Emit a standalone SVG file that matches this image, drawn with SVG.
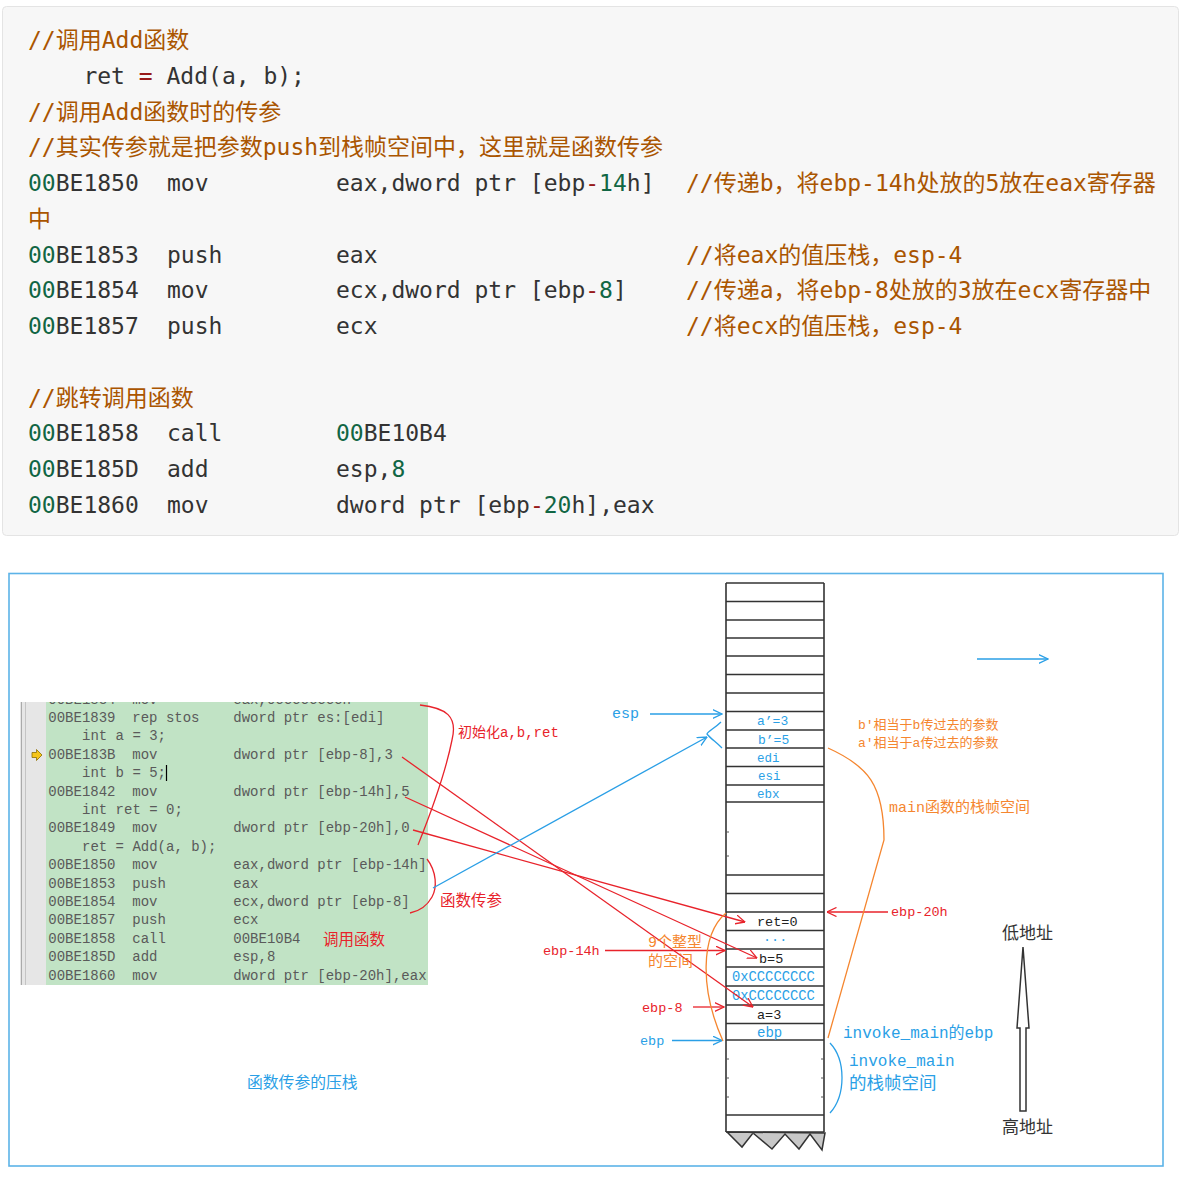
<svg xmlns="http://www.w3.org/2000/svg" width="1184" height="1180" viewBox="0 0 1184 1180">
<defs>
<style>
.code{font-family:"DejaVu Sans Mono","Noto Sans CJK SC",monospace;font-size:23px;fill:#333}
.cm{fill:#a50}
.nb{fill:#164}
.op{fill:#981a1a}
.asm{font-family:"Liberation Mono","Noto Sans CJK SC",monospace;font-size:14px;fill:#5a5a5a}
.lbl{font-family:"Liberation Mono","Noto Sans CJK SC",monospace}
.cjk{font-family:"Noto Sans CJK SC",sans-serif}
.red{fill:#e8232b}
.blue{fill:#2a9fe6}
.org{fill:#f5862f}
.blk{fill:#222}
.rl{stroke:#e8232b;stroke-width:1.3;fill:none}
.bl{stroke:#2a9fe6;stroke-width:1.3;fill:none}
.ol{stroke:#f5862f;stroke-width:1.3;fill:none}
.row{stroke:#333;stroke-width:1.6}
.tick{stroke:#555;stroke-width:1}
</style>
<marker id="ahR" viewBox="0 0 10 10" refX="9.5" refY="5" markerWidth="10" markerHeight="10" markerUnits="userSpaceOnUse" orient="auto"><path d="M0,0.5 L9.5,5 L0,9.5" fill="none" stroke="#e8232b" stroke-width="1.3"/></marker>
<marker id="ahB" viewBox="0 0 10 10" refX="9.5" refY="5" markerWidth="10" markerHeight="10" markerUnits="userSpaceOnUse" orient="auto"><path d="M0,0.5 L9.5,5 L0,9.5" fill="none" stroke="#2a9fe6" stroke-width="1.3"/></marker>
<clipPath id="panelClip"><rect x="20" y="702" width="408" height="283"/></clipPath>
</defs>

<rect x="0" y="0" width="1184" height="1180" fill="#fff"/>

<!-- Top code block -->
<g id="code-block">
<rect x="2.5" y="6.5" width="1176" height="529" rx="4" fill="#f7f7f7" stroke="#e4e4e4"/>
<text class="code cm" x="28" y="48">//调用Add函数</text>
<text class="code" x="83.4" y="83.75">ret <tspan class="op">=</tspan> Add(a, b);</text>
<text class="code cm" x="28" y="119.5">//调用Add函数时的传参</text>
<text class="code cm" x="28" y="155.25">//其实传参就是把参数push到栈帧空间中，这里就是函数传参</text>
<text class="code" y="191"><tspan x="28"><tspan class="nb">00</tspan>BE1850</tspan><tspan x="167">mov</tspan><tspan x="336">eax,dword ptr [ebp<tspan class="op">-</tspan><tspan class="nb">14</tspan>h]</tspan><tspan x="686" class="cm">//传递b，将ebp-14h处放的5放在eax寄存器</tspan></text>
<text class="code cm" x="28" y="226.75">中</text>
<text class="code" y="262.5"><tspan x="28"><tspan class="nb">00</tspan>BE1853</tspan><tspan x="167">push</tspan><tspan x="336">eax</tspan><tspan x="686" class="cm">//将eax的值压栈，esp-4</tspan></text>
<text class="code" y="298.25"><tspan x="28"><tspan class="nb">00</tspan>BE1854</tspan><tspan x="167">mov</tspan><tspan x="336">ecx,dword ptr [ebp<tspan class="op">-</tspan><tspan class="nb">8</tspan>]</tspan><tspan x="686" class="cm">//传递a，将ebp-8处放的3放在ecx寄存器中</tspan></text>
<text class="code" y="334"><tspan x="28"><tspan class="nb">00</tspan>BE1857</tspan><tspan x="167">push</tspan><tspan x="336">ecx</tspan><tspan x="686" class="cm">//将ecx的值压栈，esp-4</tspan></text>
<text class="code cm" x="28" y="405.5">//跳转调用函数</text>
<text class="code" y="441.25"><tspan x="28"><tspan class="nb">00</tspan>BE1858</tspan><tspan x="167">call</tspan><tspan x="336"><tspan class="nb">00</tspan>BE10B4</tspan></text>
<text class="code" y="477"><tspan x="28"><tspan class="nb">00</tspan>BE185D</tspan><tspan x="167">add</tspan><tspan x="336">esp,<tspan class="nb">8</tspan></tspan></text>
<text class="code" y="512.75"><tspan x="28"><tspan class="nb">00</tspan>BE1860</tspan><tspan x="167">mov</tspan><tspan x="336">dword ptr [ebp<tspan class="op">-</tspan><tspan class="nb">20</tspan>h],eax</tspan></text>
</g>

<!-- Picture frame -->
<rect x="9" y="573.5" width="1154" height="592.5" fill="none" stroke="#5cb3e8" stroke-width="1.6"/>

<!-- Disassembly panel -->
<g id="asm-panel">
<rect x="46" y="702" width="382" height="283" fill="#c1e3c5"/>
<rect x="20" y="702" width="26" height="283" fill="#e6e6e6"/>
<line x1="21.5" y1="702" x2="21.5" y2="985" stroke="#aaa" stroke-width="1"/>
<line x1="25.5" y1="702" x2="25.5" y2="985" stroke="#c4c4c4" stroke-width="1"/>
<g clip-path="url(#panelClip)">
<text class="asm" y="703.6"><tspan x="48.3">00BE1834</tspan><tspan x="132.3">mov</tspan><tspan x="233.3">eax,0CCCCCCCCh</tspan></text>
</g>
<text class="asm" y="722"><tspan x="48.3">00BE1839</tspan><tspan x="132.3">rep stos</tspan><tspan x="233.3">dword ptr es:[edi]</tspan></text>
<text class="asm" x="82" y="740.4">int a = 3;</text>
<text class="asm" y="758.8"><tspan x="48.3">00BE183B</tspan><tspan x="132.3">mov</tspan><tspan x="233.3">dword ptr [ebp-8],3</tspan></text>
<text class="asm" x="82" y="777.2">int b = 5;</text>
<text class="asm" y="795.6"><tspan x="48.3">00BE1842</tspan><tspan x="132.3">mov</tspan><tspan x="233.3">dword ptr [ebp-14h],5</tspan></text>
<text class="asm" x="82" y="814">int ret = 0;</text>
<text class="asm" y="832.4"><tspan x="48.3">00BE1849</tspan><tspan x="132.3">mov</tspan><tspan x="233.3">dword ptr [ebp-20h],0</tspan></text>
<text class="asm" x="82" y="850.8">ret = Add(a, b);</text>
<text class="asm" y="869.2"><tspan x="48.3">00BE1850</tspan><tspan x="132.3">mov</tspan><tspan x="233.3">eax,dword ptr [ebp-14h]</tspan></text>
<text class="asm" y="887.6"><tspan x="48.3">00BE1853</tspan><tspan x="132.3">push</tspan><tspan x="233.3">eax</tspan></text>
<text class="asm" y="906"><tspan x="48.3">00BE1854</tspan><tspan x="132.3">mov</tspan><tspan x="233.3">ecx,dword ptr [ebp-8]</tspan></text>
<text class="asm" y="924.4"><tspan x="48.3">00BE1857</tspan><tspan x="132.3">push</tspan><tspan x="233.3">ecx</tspan></text>
<text class="asm" y="942.8"><tspan x="48.3">00BE1858</tspan><tspan x="132.3">call</tspan><tspan x="233.3">00BE10B4</tspan></text>
<text class="asm" y="961.2"><tspan x="48.3">00BE185D</tspan><tspan x="132.3">add</tspan><tspan x="233.3">esp,8</tspan></text>
<text class="asm" y="979.6"><tspan x="48.3">00BE1860</tspan><tspan x="132.3">mov</tspan><tspan x="233.3">dword ptr [ebp-20h],eax</tspan></text>
<polygon points="32,752.5 36.5,752.5 36.5,749.5 42,755 36.5,760.5 36.5,757.5 32,757.5" fill="#f5c518" stroke="#8a6d00" stroke-width="0.8"/>
<line x1="166.5" y1="765" x2="166.5" y2="781" stroke="#000" stroke-width="1.2"/>
<text class="lbl red" x="323" y="944.5" font-size="15.5">调用函数</text>
</g>

<!-- Stack -->
<g id="stack">
<line class="row" x1="726" y1="583" x2="726" y2="1132"/>
<line class="row" x1="824" y1="583" x2="824" y2="1132"/>
<line class="row" x1="726" y1="583" x2="824" y2="583"/>
<line class="row" x1="726" y1="601.5" x2="824" y2="601.5"/>
<line class="row" x1="726" y1="620" x2="824" y2="620"/>
<line class="row" x1="726" y1="638" x2="824" y2="638"/>
<line class="row" x1="726" y1="656" x2="824" y2="656"/>
<line class="row" x1="726" y1="674.5" x2="824" y2="674.5"/>
<line class="row" x1="726" y1="693" x2="824" y2="693"/>
<line class="row" x1="726" y1="711.5" x2="824" y2="711.5"/>
<line class="row" x1="726" y1="730" x2="824" y2="730"/>
<line class="row" x1="726" y1="748" x2="824" y2="748"/>
<line class="row" x1="726" y1="766.5" x2="824" y2="766.5"/>
<line class="row" x1="726" y1="785" x2="824" y2="785"/>
<line class="row" x1="726" y1="802" x2="824" y2="802"/>
<line class="tick" x1="726" y1="832" x2="729" y2="832"/>
<line class="tick" x1="726" y1="856" x2="729" y2="856"/>
<line class="row" x1="726" y1="875" x2="824" y2="875"/>
<line class="row" x1="726" y1="893.5" x2="824" y2="893.5"/>
<line class="row" x1="726" y1="912" x2="824" y2="912"/>
<line class="row" x1="726" y1="930.5" x2="824" y2="930.5"/>
<line class="row" x1="726" y1="949" x2="824" y2="949"/>
<line class="row" x1="726" y1="967" x2="824" y2="967"/>
<line class="row" x1="726" y1="986" x2="824" y2="986"/>
<line class="row" x1="726" y1="1005" x2="824" y2="1005"/>
<line class="row" x1="726" y1="1023.5" x2="824" y2="1023.5"/>
<line class="row" x1="726" y1="1040" x2="824" y2="1040"/>
<line class="tick" x1="726" y1="1059" x2="729" y2="1059"/>
<line class="tick" x1="726" y1="1078" x2="729" y2="1078"/>
<line class="tick" x1="726" y1="1097" x2="729" y2="1097"/>
<line class="tick" x1="821" y1="1059" x2="824" y2="1059"/>
<line class="tick" x1="821" y1="1078" x2="824" y2="1078"/>
<line class="tick" x1="821" y1="1097" x2="824" y2="1097"/>
<line class="row" x1="726" y1="1115" x2="824" y2="1115"/>
<line class="row" x1="726" y1="1132" x2="824" y2="1132"/>
<polygon points="727,1132 742,1147 753,1133 772,1149 785,1134 799,1149 810,1134 822,1150 825,1133" fill="#c8c8c8" stroke="#333" stroke-width="1.5" stroke-linejoin="miter"/>
<text class="lbl blue" x="757" y="725" font-size="13">a’=3</text>
<text class="lbl blue" x="758" y="743.5" font-size="13">b’=5</text>
<text class="lbl blue" x="757" y="761.5" font-size="12.5">edi</text>
<text class="lbl blue" x="758" y="780" font-size="12.5">esi</text>
<text class="lbl blue" x="757" y="797.5" font-size="12.5">ebx</text>
<text class="lbl blk" x="757" y="925.5" font-size="13.5">ret=0</text>
<text class="lbl blue" x="763" y="944" font-size="13.5">···</text>
<text class="lbl blk" x="759" y="962.5" font-size="13.5">b=5</text>
<text class="lbl blue" x="732" y="981" font-size="13.8">0xCCCCCCCC</text>
<text class="lbl blue" x="732" y="1000" font-size="13.8">0xCCCCCCCC</text>
<text class="lbl blk" x="757" y="1018.5" font-size="13.5">a=3</text>
<text class="lbl blue" x="757" y="1036.5" font-size="14">ebp</text>
</g>

<!-- Connectors -->
<g id="connectors">
<path class="rl" d="M420,705 C446,708 458,716 452,740 C446,770 432,810 418,845"/>
<path class="rl" d="M427,859 C437,872 437,888 432,897 C427,906 420,911 410,913"/>
<line class="rl" x1="402" y1="757" x2="753" y2="1007" marker-end="url(#ahR)"/>
<line class="rl" x1="405" y1="797" x2="757" y2="958" marker-end="url(#ahR)"/>
<line class="rl" x1="413" y1="830" x2="745" y2="922" marker-end="url(#ahR)"/>
<line class="rl" x1="605" y1="950.5" x2="725" y2="950.5" marker-end="url(#ahR)"/>
<line class="rl" x1="693" y1="1007" x2="724" y2="1007" marker-end="url(#ahR)"/>
<line class="rl" x1="888" y1="912" x2="827" y2="912" marker-end="url(#ahR)"/>
<line class="bl" x1="433" y1="888" x2="707" y2="737" marker-end="url(#ahB)"/>
<line class="bl" x1="650" y1="714" x2="722" y2="714" marker-end="url(#ahB)"/>
<line class="bl" x1="672" y1="1040.5" x2="722" y2="1040.5" marker-end="url(#ahB)"/>
<line class="bl" x1="977" y1="659" x2="1048" y2="659" marker-end="url(#ahB)"/>
<path class="bl" d="M721,722 C715,728 708,731 707,734 C710,738 716,742 722,748"/>
<path class="bl" d="M830,1043 C846,1060 846,1095 830,1113"/>
<path class="ol" d="M726,913 C700,935 700,990 723,1041"/>
<path class="ol" d="M828,748 C868,766 884,785 884,840 L828,1038"/>
<polygon points="1023,947 1029,1028 1026,1028 1026,1111 1020,1111 1020,1028 1017,1028" fill="#fff" stroke="#333" stroke-width="1.5"/>
</g>

<!-- Labels -->
<g id="labels">
<text class="lbl red" x="458" y="737" font-size="14">初始化a,b,ret</text>
<text class="lbl red" x="440" y="906" font-size="15.5">函数传参</text>
<text class="lbl blue" x="612" y="718" font-size="15">esp</text>
<text class="lbl red" x="543" y="955" font-size="13.5">ebp-14h</text>
<text class="lbl org" x="648" y="946.5" font-size="15">9个整型</text>
<text class="lbl org" x="648" y="966" font-size="15">的空间</text>
<text class="lbl red" x="642" y="1011.5" font-size="13.5">ebp-8</text>
<text class="lbl blue" x="640" y="1045" font-size="13.5">ebp</text>
<text class="lbl org" x="858" y="728.5" font-size="13">b'相当于b传过去的参数</text>
<text class="lbl org" x="858" y="746.5" font-size="13">a'相当于a传过去的参数</text>
<text class="lbl org" x="889" y="812" font-size="15">main函数的栈帧空间</text>
<text class="lbl red" x="891" y="916" font-size="13.5">ebp-20h</text>
<text class="lbl blue" x="843" y="1037.5" font-size="16">invoke_main的ebp</text>
<text class="lbl blue" x="849" y="1065.5" font-size="16">invoke_main</text>
<text class="lbl blue" x="849" y="1088.5" font-size="17.5">的栈帧空间</text>
<text class="cjk" x="1002" y="939" font-size="17" fill="#333">低地址</text>
<text class="cjk" x="1002" y="1133" font-size="17" fill="#333">高地址</text>
<text class="lbl blue" x="247" y="1087.5" font-size="15.8">函数传参的压栈</text>
</g>
</svg>
